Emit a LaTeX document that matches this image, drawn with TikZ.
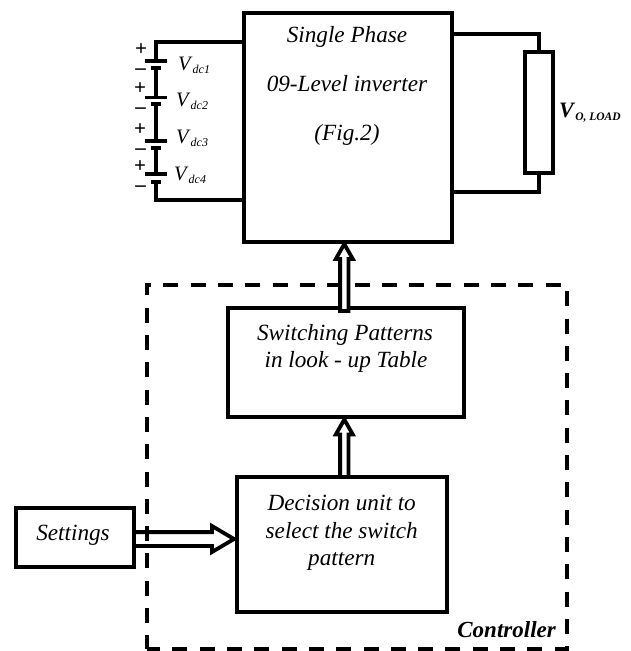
\documentclass[tikz,border=0pt]{standalone}
\usepackage{fontspec}
\setmainfont{Liberation Serif}
\usetikzlibrary{arrows.meta,calc}
\newcommand{\fs}[1]{\fontsize{#1}{#1}\selectfont}
\newcommand{\vlab}[1]{\fs{20.5}\textit{V}\raisebox{-3pt}{\fs{12}\textit{#1}}}
% hollow block arrows: start, tip, half gap, half head width, head length
\newcommand{\hollowup}[5]{\draw[hollowarrow] ($(#1)+(-#3,0)$) -- ($(#2)+(-#3,#5)$) -- ($(#2)+(-#4,#5)$) -- (#2) -- ($(#2)+(#4,#5)$) -- ($(#2)+(#3,#5)$) -- ($(#1)+(#3,0)$) -- cycle;}
\newcommand{\hollowright}[5]{\draw[hollowarrow] ($(#1)+(0,-#3)$) -- ($(#2)+(-#5,-#3)$) -- ($(#2)+(-#5,-#4)$) -- (#2) -- ($(#2)+(-#5,#4)$) -- ($(#2)+(-#5,#3)$) -- ($(#1)+(0,#3)$) -- cycle;}
\tikzset{
  block/.style={draw=black,line width=4pt,fill=white,inner sep=0pt,outer sep=0pt,anchor=north west},
  wire/.style={draw=black,line width=3.4pt,line join=miter},
  longplate/.style={draw=black,line width=3.4pt},
  shortplate/.style={draw=black,line width=4.2pt},
  hollowarrow/.style={draw=black,line width=3.8pt,fill=white,line join=miter,miter limit=10},
  ctrl/.style={draw=black,line width=4pt,dash pattern=on 15pt off 12.3pt,dash phase=1.3pt},
  lbl/.style={font=\fs{23.2}\itshape,align=center,inner sep=0pt,anchor=base},
  sign/.style={font=\fs{21}\bfseries,inner sep=0pt},
  vl/.style={anchor=west,inner sep=0pt}
}
\begin{document}
\begin{tikzpicture}[x=1pt,y=-1pt]
\useasboundingbox (0,0) rectangle (631,651);
\fill[white] (0,0) rectangle (631,651);
% blocks
\node[block,minimum width=208.5pt,minimum height=229pt] (inv) at (243.5,12.5) {};
\node[block,minimum width=236pt,minimum height=109pt] (sw) at (228,308) {};
\node[block,minimum width=210pt,minimum height=135pt] (dec) at (237,477) {};
\node[block,minimum width=118pt,minimum height=58.5pt] (set) at (16,508) {};
\node[block,minimum width=28.5pt,minimum height=121pt] (load) at (524.7,51.7) {};
% levels
\coordinate (yti) at (0,42);
\coordinate (ybi) at (0,200);
\coordinate (ytr) at (0,34);
\coordinate (ybr) at (0,192);
\coordinate (yset) at (0,539);
\coordinate (xup) at (344.3,0);
% settings arrow lies under the dashed frame
\coordinate (a3s) at (set.east |- yset);
\coordinate (a3t) at ([xshift=-3pt]dec.west |- yset);
\hollowright{a3s}{a3t}{6.9}{13}{22}
% dashed controller frame
\draw[ctrl] (146.5,649) -- (146.5,285) -- (566.7,285) -- (566.7,649) -- cycle;
% arrows from blocks
\coordinate (a1s) at ([yshift=-3pt]xup |- sw.north);
\coordinate (a1t) at ([yshift=-2.5pt]xup |- inv.south);
\hollowup{a1s}{a1t}{4.2}{8.5}{15}
\coordinate (a2s) at (xup |- dec.north);
\coordinate (a2t) at ([yshift=-2.5pt]xup |- sw.south);
\hollowup{a2s}{a2t}{4.2}{8.5}{15}
% text
\node[lbl] at (347,42) {Single Phase};
\node[lbl] at (347,91) {09-Level inverter};
\node[lbl] at (347,140) {(Fig.2)};
\node[lbl] at (345,340) {Switching Patterns};
\node[lbl] at (346,367) {in look - up Table};
\node[lbl] at (341.7,510.7) {Decision unit to};
\node[lbl] at (341.7,538) {select the switch};
\node[lbl] at (341.7,565) {pattern};
\node[lbl] at (73,540) {Settings};
\node[lbl,font=\fs{23}\bfseries\itshape,anchor=base east] at (556,637) {Controller};
\node[vl] at (559,113) {\fs{22}\textbf{\textit{V}}\raisebox{-3pt}{\fs{11.5}\textbf{\textit{O, LOAD}}}};
% battery plates
\foreach \n/\ly/\sy in {1/61/67.7,2/97.7/103.7,3/141/148,4/174/181.7}{
  \coordinate (lp\n) at (156,\ly);
  \coordinate (sp\n) at (156,\sy);
  \draw[longplate] ($(lp\n)+(-11,0)$) -- ($(lp\n)+(11,0)$);
  \draw[shortplate] ($(sp\n)+(-5,0)$) -- ($(sp\n)+(5,0)$);
}
% wires
\draw[wire] (inv.west |- yti) -| (lp1);
\draw[wire] (sp1) -- (lp2);
\draw[wire] (sp2) -- (lp3);
\draw[wire] (sp3) -- (lp4);
\draw[wire] (sp4) |- (inv.west |- ybi);
\draw[wire] (inv.east |- ytr) -| (load.north);
\draw[wire] (inv.east |- ybr) -| (load.south);
% signs
\node[sign] at (141,50) {+};
\node[sign] at (140.5,71.5) {--};
\node[sign] at (140,89) {+};
\node[sign] at (140.5,110.5) {--};
\node[sign] at (140,130) {+};
\node[sign] at (140.5,151.5) {--};
\node[sign] at (140,167) {+};
\node[sign] at (140.5,188.5) {--};
% labels
\node[vl] at (178,65) {\vlab{dc1}};
\node[vl] at (176,101) {\vlab{dc2}};
\node[vl] at (176,138) {\vlab{dc3}};
\node[vl] at (174,175) {\vlab{dc4}};
\end{tikzpicture}
\end{document}
